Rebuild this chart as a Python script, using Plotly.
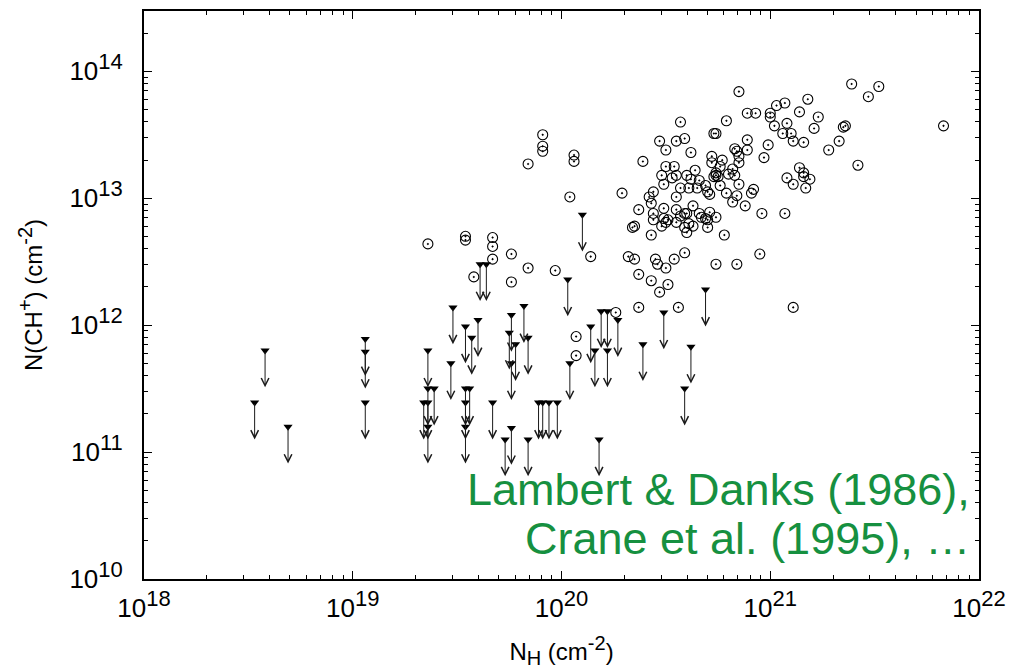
import plotly.graph_objects as go

# ---------------- data (log10 values) ----------------
# detections: log10 N_H [cm^-2]
log_nh_det = [
    19.36, 19.54, 19.54, 19.67, 19.67, 19.67, 19.58, 19.76, 19.76, 19.84, 19.97, 19.84,
    19.91, 19.91, 19.91, 20.06, 20.06, 20.04, 20.14, 20.07, 20.07, 20.26, 20.29,
    20.85, 21.07, 21.03, 20.89, 20.93, 21.00, 21.00, 21.14, 20.57, 20.79, 21.02, 21.08,
    21.06, 21.10, 20.74, 20.73, 21.11, 20.89, 20.47, 20.55, 20.59, 20.50, 20.62, 20.83,
    20.84, 20.89, 20.99, 20.85, 20.97, 20.39, 20.72, 20.77, 20.72, 20.76, 20.85, 20.50,
    20.54, 20.64, 21.14, 20.48, 20.55, 20.53, 20.60, 20.62, 20.66, 20.74, 20.73, 20.74,
    20.75, 20.80, 20.82, 20.83, 21.08, 21.11, 20.49, 20.57, 20.61, 20.65, 20.69, 20.76,
    20.85, 20.70, 20.71, 20.79, 20.84, 20.92, 20.91, 20.44, 20.42, 20.55, 20.82, 20.88,
    20.43, 20.63, 20.37, 20.44, 20.49, 20.55, 20.60, 20.59, 20.66, 20.71, 20.96, 21.07,
    20.74, 20.67, 20.69, 20.70, 20.57, 20.44, 20.49, 20.51, 20.50, 20.48, 20.55, 20.61,
    20.63, 20.70, 20.59, 20.34, 20.35, 20.43, 20.60, 20.78, 20.32, 20.35, 20.45, 20.46,
    20.50, 20.54, 20.59, 20.74, 20.84, 20.95, 20.37, 20.43, 20.47, 20.51, 20.37, 20.56,
    21.11,
    21.39, 21.52, 21.47, 21.18, 21.23, 21.21, 21.36, 21.35, 21.16, 21.33, 21.28, 21.83,
    21.42, 21.16, 21.16, 21.19, 21.17,
]
# detections: log10 N(CH+) [cm^-2]
log_nch_det = [
    12.64, 12.70, 12.67, 12.69, 12.62, 12.52, 12.38, 12.56, 12.34, 12.45, 12.43, 13.27,
    13.50, 13.41, 13.37, 13.34, 13.29, 13.01, 12.54, 11.91, 11.76, 12.10, 13.04,
    13.84, 13.75, 13.73, 13.67, 13.67, 13.67, 13.64, 13.68, 13.60, 13.61, 13.57, 13.59,
    13.51, 13.51, 13.51, 13.51, 13.45, 13.46, 13.45, 13.45, 13.47, 13.38, 13.36, 13.39,
    13.37, 13.38, 13.42, 13.33, 13.32, 13.29, 13.33, 13.30, 13.28, 13.25, 13.28, 13.25,
    13.25, 13.22, 13.24, 13.18, 13.18, 13.16, 13.18, 13.15, 13.14, 13.18, 13.17, 13.20,
    13.17, 13.19, 13.23, 13.18, 13.16, 13.11, 13.11, 13.08, 13.08, 13.08, 13.10, 13.10,
    13.11, 13.05, 13.03, 13.04, 13.02, 13.07, 13.04, 13.05, 13.01, 13.01, 12.97, 12.94,
    12.96, 12.94, 12.91, 12.88, 12.92, 12.91, 12.88, 12.88, 12.88, 12.89, 12.88, 12.88,
    12.85, 12.85, 12.84, 12.83, 12.86, 12.83, 12.84, 12.83, 12.81, 12.78, 12.81, 12.80,
    12.78, 12.77, 12.77, 12.77, 12.78, 12.71, 12.73, 12.71, 12.54, 12.52, 12.52, 12.48,
    12.45, 12.52, 12.57, 12.48, 12.48, 12.56, 12.40, 12.35, 12.26, 12.32, 12.14, 12.14,
    12.14,
    13.90, 13.88, 13.80, 13.78, 13.64, 13.55, 13.57, 13.56, 13.44, 13.45, 13.38, 13.57,
    13.26, 13.20, 13.17, 13.15, 13.08,
]

# upper limits: log10 N_H and log10 N(CH+)
log_nh_ul = [
    18.53, 18.58, 18.69, 19.06, 19.06, 19.06, 19.36, 19.36, 19.39, 19.34, 19.36, 19.36,
    19.48, 19.47, 19.54, 19.57, 19.60, 19.54, 19.56, 19.54, 19.54, 19.61, 19.64, 19.67,
    19.73, 19.75, 19.76, 19.78, 19.76, 19.76, 19.82, 19.84, 19.84, 20.03, 20.04, 19.89,
    19.91, 19.94, 19.98, 20.10, 20.14, 20.16, 20.19, 20.22, 20.22, 20.27, 20.18, 20.39,
    20.49, 20.59, 20.62, 20.69,
]
log_nch_ul = [
    11.39, 11.80, 11.20, 11.89, 11.79, 11.39, 11.80, 11.50, 11.50, 11.39, 11.39, 11.20,
    12.14, 11.70, 11.99, 11.90, 12.04, 11.50, 11.50, 11.39, 11.20, 12.48, 12.48, 11.39,
    11.10, 11.94, 12.08, 11.85, 11.70, 11.19, 12.15, 11.90, 11.10, 12.36, 11.70, 11.39,
    11.39, 11.39, 11.39, 12.87, 11.99, 11.80, 12.11, 12.11, 11.80, 12.04, 11.10, 11.85,
    12.10, 11.50, 11.83, 12.28,
]

x_decades = [18, 19, 20, 21, 22]
y_decades = [10, 11, 12, 13, 14]

label_line1 = "Lambert & Danks (1986),"
label_line2 = "Crane et al. (1995), …"

# ---------------- style ----------------
FONT = "Liberation Sans, Arial, Helvetica, sans-serif"
GREEN = "#169040"
ARROW_DEX = 0.29


def sup(t, px):
    return f"<sup><span style='font-size:{px}px'>{t}</span></sup>"


def sub(t, px):
    return f"<sub><span style='font-size:{px}px'>{t}</span></sub>"


fig = go.Figure()

fig.add_trace(go.Scatter(
    x=[10.0 ** v for v in log_nh_det], y=[10.0 ** v for v in log_nch_det],
    mode="markers",
    marker=dict(symbol="circle-open-dot", size=10, color="black", line=dict(width=1.1, color="black")),
    showlegend=False, hoverinfo="skip",
))

for lx, ly in zip(log_nh_ul, log_nch_ul):
    fig.add_annotation(
        x=lx, y=ly - ARROW_DEX, ax=lx, ay=ly,
        xref="x", yref="y", axref="x", ayref="y",
        text="", showarrow=True, arrowhead=5, arrowsize=1.5, arrowwidth=1,
        arrowcolor="#1a1a1a", standoff=0, startstandoff=0,
    )

fig.add_trace(go.Scatter(
    x=[10.0 ** v for v in log_nh_ul], y=[10.0 ** v for v in log_nch_ul],
    mode="markers",
    marker=dict(symbol="triangle-down", size=8, color="black", line=dict(width=0)),
    showlegend=False, hoverinfo="skip",
))


def minor_vals(lo, hi):
    return [float(m) * 10.0 ** d for d in range(lo, hi) for m in range(2, 10)]


axis_common = dict(
    type="log", showgrid=False, zeroline=False,
    showline=True, linecolor="black", linewidth=2, mirror="allticks",
    ticks="inside", ticklen=8, tickwidth=1, tickcolor="black",
    tickmode="array",
    tickfont=dict(family=FONT, size=26, color="black"),
)

fig.update_xaxes(
    **axis_common,
    range=[18, 22],
    tickvals=[10.0 ** d for d in x_decades],
    ticktext=["10" + sup(d, 22) for d in x_decades],
    minor=dict(tickmode="array", tickvals=minor_vals(18, 22), ticks="inside", ticklen=4,
               tickcolor="black", showgrid=False),
    ticklabelstandoff=5,
    title=dict(text="N" + sub("H", 20) + " (cm" + sup("-2", 20) + ")",
               font=dict(family=FONT, size=24, color="black"), standoff=21),
)
fig.update_yaxes(
    **axis_common,
    range=[10, 14.475],
    tickvals=[10.0 ** d for d in y_decades],
    ticktext=["10" + sup(d, 22) for d in y_decades],
    minor=dict(tickmode="array", tickvals=minor_vals(10, 15), ticks="inside", ticklen=4,
               tickcolor="black", showgrid=False),
    ticklabelstandoff=14,
    title=dict(text="N(CH" + sup("+", 20) + ") (cm" + sup("-2", 20) + ")",
               font=dict(family=FONT, size=24, color="black"), standoff=20),
)

fig.add_annotation(
    xref="paper", yref="paper", x=0.9916, y=0.158, xanchor="right", yanchor="middle",
    text=label_line1, showarrow=False, font=dict(family=FONT, size=45, color=GREEN),
)
fig.add_annotation(
    xref="paper", yref="paper", x=0.9916, y=0.072, xanchor="right", yanchor="middle",
    text=label_line2, showarrow=False, font=dict(family=FONT, size=45, color=GREEN),
)

fig.update_layout(
    width=1009, height=670,
    margin=dict(l=144, r=30, t=11, b=91, autoexpand=False),
    paper_bgcolor="white", plot_bgcolor="white",
    font=dict(family=FONT, color="black"),
)

fig.write_html("out.html")
